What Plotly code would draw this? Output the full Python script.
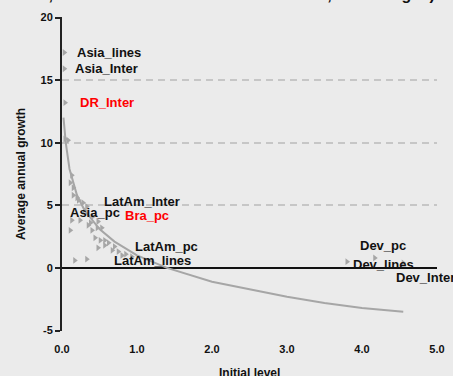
import plotly.graph_objects as go

# ---- data ----
curve_x = [0.02, 0.03, 0.05, 0.1, 0.2, 0.3, 0.4, 0.5, 0.7, 1.0, 1.4, 2.0, 2.5, 3.0, 3.5, 4.0, 4.55]
curve_y = [12.0, 11.3, 10.0, 7.9, 5.8, 4.6, 3.8, 3.1, 2.1, 1.0, 0.0, -1.1, -1.7, -2.3, -2.8, -3.2, -3.5]

cluster_x = [0.04, 0.08, 0.11, 0.13, 0.15, 0.15, 0.20, 0.22, 0.28, 0.33, 0.30, 0.24, 0.11,
             0.48, 0.35, 0.40, 0.47, 0.38, 0.44, 0.51, 0.57, 0.62, 0.48, 0.57, 0.70, 0.75,
             0.85, 0.17, 0.33, 0.93]
cluster_y = [10.3, 10.2, 6.8, 7.4, 6.4, 5.8, 5.6, 5.4, 5.2, 4.9, 4.6, 3.8, 3.0,
             3.7, 3.4, 3.0, 3.2, 3.6, 2.4, 2.2, 2.2, 2.0, 1.6, 1.8, 1.7, 1.3,
             1.1, 0.6, 0.7, 0.9]

label_names = ["Asia_lines", "Asia_Inter", "DR_Inter", "LatAm_Inter", "Asia_pc", "Bra_pc",
               "LatAm_pc", "LatAm_lines", "Dev_pc", "Dev_lines", "Dev_Inter"]
label_x = [0.03, 0.03, 0.04, 0.41, 0.13, 0.53, 0.80, 0.67, 4.17, 3.80, 4.55]
label_y = [17.2, 15.9, 13.2, 4.1, 3.8, 3.2, 1.0, 1.4, 0.8, 0.5, 0.4]
label_red = [False, False, True, False, False, True, False, False, False, False, False]

y_tick_vals = [-5, 0, 5, 10, 15, 20]
y_tick_text = ["-5", "0", "5", "10", "15", "20"]
x_tick_vals = [0, 1, 2, 3, 4, 5]

title_text = "lines, 10-05 for PCs and 15-07 for Internet; world avg=1)"
x_title = "Initial level"
y_title = "Average annual growth"

# ---- styles ----
label_shift_x = [11, 9, 13, 9, -4, 21, 11, 0, -17, 4, -9]
label_shift_y = [0, 0, 0, 15, 8, 12, 9, -10, 12, -3, -15]

BG = "#ebebeb"
GRAY = "#a6a6a6"
FONT = "Liberation Sans, Arial, sans-serif"

fig = go.Figure()
fig.add_trace(go.Scatter(x=curve_x, y=curve_y, mode="lines",
                         line=dict(color=GRAY, width=2), hoverinfo="skip"))
fig.add_trace(go.Scatter(x=cluster_x, y=cluster_y, mode="markers",
                         marker=dict(symbol="triangle-right", size=6, color=GRAY)))
fig.add_trace(go.Scatter(x=label_x, y=label_y, mode="markers",
                         marker=dict(symbol="triangle-right", size=6, color=GRAY)))

for name, x, y, red, sx, sy in zip(label_names, label_x, label_y, label_red,
                                   label_shift_x, label_shift_y):
    fig.add_annotation(x=x, y=y, text=name, showarrow=False, xanchor="left",
                       yanchor="middle", xshift=sx, yshift=sy,
                       font=dict(family=FONT, size=13, weight=700,
                                 color="#ff0000" if red else "#111111"))

# title, cut by the top edge as in the reference
fig.add_annotation(x=-0.139, y=1, xref="paper", yref="paper", text=title_text,
                   showarrow=False, xanchor="left", yanchor="middle", yshift=23,
                   font=dict(family=FONT, size=16, weight=700, color="#111111"))
# x-axis title, partly cut by the bottom edge as in the reference
fig.add_annotation(x=0.5, y=0, xref="paper", yref="paper", text=x_title,
                   showarrow=False, xanchor="center", yanchor="middle", yshift=-42,
                   font=dict(family=FONT, size=12, weight=700, color="#111111"))

fig.update_layout(
    width=453, height=376,
    margin=dict(l=62, r=16, t=17, b=45, autoexpand=False),
    paper_bgcolor=BG, plot_bgcolor=BG,
    showlegend=False,
    font=dict(family=FONT, size=11, color="#111111", weight=700),
)
fig.update_xaxes(range=[0, 5], tickvals=x_tick_vals, tickformat=".1f",
                 showgrid=False, zeroline=False, showline=False, ticks="",
                 ticklabelstandoff=10, automargin=False,
                 tickfont=dict(family=FONT, size=11, weight=700))
fig.update_yaxes(range=[-5.04, 20.04], tickvals=y_tick_vals, ticktext=y_tick_text,
                 showgrid=True, gridcolor="#c6c6c6", gridwidth=1.5, griddash="7px,5px",
                 zeroline=True, zerolinecolor="#111111", zerolinewidth=2,
                 showline=True, linecolor="#222222", linewidth=2,
                 ticks="outside", ticklen=5, tickcolor="#222222", tickwidth=2,
                 automargin=False,
                 tickfont=dict(family=FONT, size=11, weight=700),
                 title=dict(text=y_title, standoff=12,
                            font=dict(family=FONT, size=12, weight=700)))

fig.write_html("out.html", config={"displayModeBar": False},
               post_script="document.body.style.margin='0';"
                           "document.body.style.background='#ebebeb';")
